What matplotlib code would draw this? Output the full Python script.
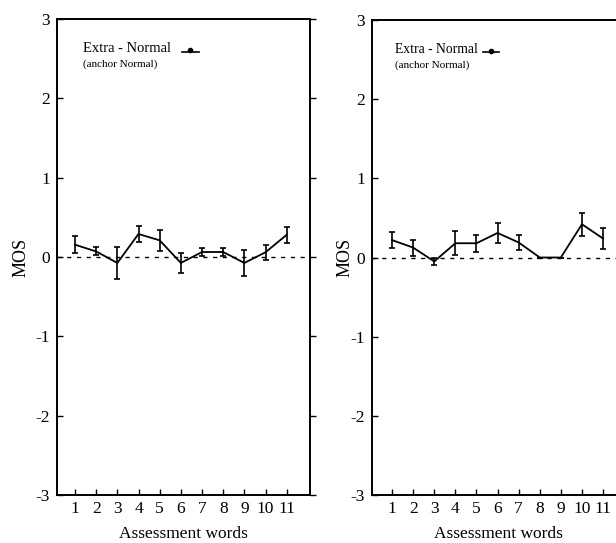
import numpy as np
import matplotlib
matplotlib.use("Agg")
import matplotlib.pyplot as plt
from matplotlib.lines import TICKRIGHT

plt.rcParams['font.family'] = ['Liberation Serif', 'DejaVu Serif']

# assessment word index
words = [1, 2, 3, 4, 5, 6, 7, 8, 9, 10, 11]

# left panel: Extra - Normal (anchor Normal)
mos_left = [0.155, 0.07, -0.075, 0.29, 0.21, -0.075, 0.063, 0.063, -0.075, 0.06, 0.28]
err_left = [0.11, 0.05, 0.20, 0.105, 0.135, 0.125, 0.055, 0.055, 0.16, 0.095, 0.10]

# right panel: Extra - Normal (anchor Normal)
mos_right = [0.22, 0.125, -0.05, 0.18, 0.18, 0.31, 0.19, 0.0, 0.0, 0.42, 0.24]
err_right = [0.105, 0.10, 0.05, 0.15, 0.11, 0.13, 0.10, 0.0, 0.0, 0.145, 0.13]

yticks = [-3, -2, -1, 0, 1, 2, 3]
legend_main = "Extra - Normal"
legend_sub = "(anchor Normal)"

W, H = 616, 543
fig = plt.figure(figsize=(W / 100, H / 100), dpi=100)


def panel(rect, xlim, mos, err, txt_x, txt_size, sym_x, label_x):
    ax = fig.add_axes(rect)
    ax.errorbar(words, mos, yerr=err, color='black', lw=1.3, capsize=2.2,
                capthick=1.2, elinewidth=1.2)
    ax.axhline(0, color='black', lw=1.0, ls=(0, (3, 4)))
    ax.set_xlim(*xlim)
    ax.set_ylim(-3, 3)
    ax.set_yticks(yticks)
    ax.set_yticklabels([str(v) for v in yticks])
    ax.set_xticks(words)
    ax.tick_params(axis='x', direction='in', length=4, width=1, labelsize=12.5, pad=4)
    ax.tick_params(axis='y', direction='in', length=4, width=1, labelsize=12.5, pad=5,
                   right=True)
    # right-hand ticks point outwards
    for t in ax.yaxis.get_major_ticks():
        t.tick2line.set_marker(TICKRIGHT)
    for s in ax.spines.values():
        s.set_linewidth(1.4)
    ax.set_xlabel("Assessment words", fontsize=12.5, labelpad=7)
    ax.set_ylabel("MOS", fontsize=13)
    ax.yaxis.set_label_coords(label_x, 0.5)
    # legend drawn by hand
    ax.text(txt_x, 2.63, legend_main, fontsize=txt_size, va='center', ha='left')
    ax.text(txt_x, 2.43, legend_sub, fontsize=8, va='center', ha='left')
    ax.plot([sym_x - 0.4, sym_x + 0.4], [2.59, 2.59], color='black', lw=1.2)
    ax.plot([sym_x], [2.605], 'o', color='black', ms=3)
    return ax


ax1 = panel([57 / W, 48 / H, 253 / W, 476 / H], (0.15, 12.1), mos_left, err_left,
            1.38, 10.5, 6.45, -0.11)
ax2 = panel([372 / W, 48 / H, 253 / W, 475 / H], (0.05, 12.04), mos_right, err_right,
            1.14, 9.8, 5.69, -0.075)

fig.savefig("out.png", dpi=100)
